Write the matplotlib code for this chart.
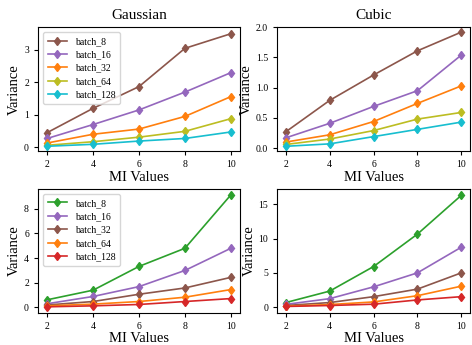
import matplotlib
matplotlib.use("Agg")
import matplotlib.pyplot as plt

plt.rcParams['font.family'] = ['Liberation Serif', 'DejaVu Serif']
plt.rcParams['mathtext.fontset'] = 'stix'

mi_values = [2, 4, 6, 8, 10]
labels = ["batch_8", "batch_16", "batch_32", "batch_64", "batch_128"]

gaussian = {
    "batch_8": [0.45, 1.20, 1.87, 3.05, 3.50],
    "batch_16": [0.27, 0.70, 1.15, 1.70, 2.30],
    "batch_32": [0.13, 0.40, 0.56, 0.95, 1.56],
    "batch_64": [0.06, 0.17, 0.31, 0.49, 0.88],
    "batch_128": [0.03, 0.09, 0.19, 0.27, 0.47],
}
cubic = {
    "batch_8": [0.27, 0.79, 1.21, 1.61, 1.92],
    "batch_16": [0.17, 0.41, 0.69, 0.95, 1.54],
    "batch_32": [0.10, 0.22, 0.44, 0.74, 1.03],
    "batch_64": [0.06, 0.15, 0.29, 0.48, 0.59],
    "batch_128": [0.03, 0.07, 0.19, 0.31, 0.43],
}
bottom_left = {
    "batch_8": [0.62, 1.40, 3.33, 4.80, 9.13],
    "batch_16": [0.30, 0.89, 1.69, 3.00, 4.80],
    "batch_32": [0.20, 0.48, 1.07, 1.58, 2.44],
    "batch_64": [0.13, 0.27, 0.48, 0.83, 1.45],
    "batch_128": [0.05, 0.13, 0.24, 0.48, 0.72],
}
bottom_right = {
    "batch_8": [0.67, 2.34, 5.92, 10.65, 16.30],
    "batch_16": [0.40, 1.24, 2.96, 5.00, 8.74],
    "batch_32": [0.24, 0.67, 1.53, 2.63, 5.00],
    "batch_64": [0.14, 0.38, 0.76, 1.67, 3.06],
    "batch_128": [0.10, 0.24, 0.43, 1.05, 1.53],
}

top_colors = ["tab:brown", "tab:purple", "tab:orange", "tab:olive", "tab:cyan"]
bottom_colors = ["tab:green", "tab:purple", "tab:brown", "tab:orange", "tab:red"]

fig = plt.figure(figsize=(4.72, 3.45), dpi=100)
positions = [
    [0.0805, 0.562, 0.428, 0.359],
    [0.587, 0.562, 0.409, 0.359],
    [0.0805, 0.0928, 0.428, 0.359],
    [0.587, 0.0928, 0.409, 0.359],
]
datasets = [gaussian, cubic, bottom_left, bottom_right]
colorsets = [top_colors, top_colors, bottom_colors, bottom_colors]
titles = ["Gaussian", "Cubic", None, None]
yticks = [[0, 1, 2, 3], [0.0, 0.5, 1.0, 1.5, 2.0], [0, 2, 4, 6, 8], [0, 5, 10, 15]]
ylims = [(-0.12, 3.7), (-0.05, 2.0), (-0.45, 9.6), (-0.85, 17.2)]

for i, (pos, data, cols) in enumerate(zip(positions, datasets, colorsets)):
    ax = fig.add_axes(pos)
    for lab, c in zip(labels, cols):
        ax.plot(mi_values, data[lab], marker='d', markersize=4.5, color=c,
                linewidth=1.2, label=lab)
    ax.set_xticks(mi_values)
    ax.set_yticks(yticks[i])
    ax.set_ylim(*ylims[i])
    ax.tick_params(labelsize=7, length=3)
    ax.set_xlabel("MI Values", fontsize=10.5, labelpad=1)
    ax.set_ylabel("Variance", fontsize=10.5, labelpad=2)
    if titles[i]:
        ax.set_title(titles[i], fontsize=11, pad=6)
    if i in (0, 2):
        ax.legend(loc='upper left', fontsize=7, handlelength=2.0,
                  labelspacing=0.45, borderpad=0.5)

fig.savefig("out.png", dpi=100)
